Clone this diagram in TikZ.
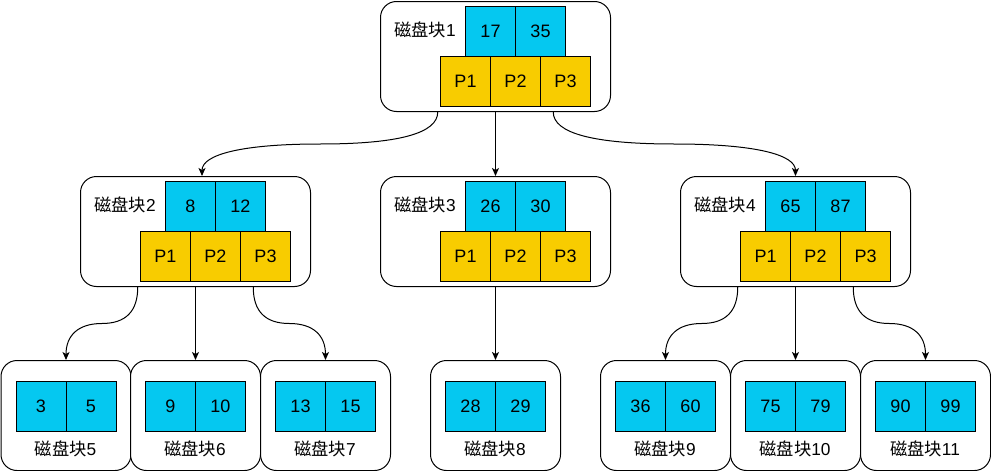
\documentclass[tikz,border=0pt]{standalone}
\usepackage{fontspec}
\setmainfont{Liberation Sans}
\newfontfamily\cjk{Noto Sans CJK SC}
\usetikzlibrary{calc,arrows.meta}
\definecolor{keyblue}{RGB}{5,200,240}
\definecolor{ptryellow}{RGB}{248,204,0}
\tikzset{
  outerbox/.style={draw=black, line width=1pt, rounded corners=16pt, minimum width=230pt, minimum height=110pt, inner sep=0pt, anchor=north west, fill=white},
  leafbox/.style={outerbox, minimum width=130pt},
  bcell/.style={draw=black, line width=1pt, fill=keyblue, minimum size=50pt, inner sep=0pt, anchor=north west, font=\fontsize{18}{20}\selectfont},
  ycell/.style={bcell, fill=ptryellow},
  lbl/.style={font=\fontsize{17.3}{20}\selectfont, inner sep=0pt},
  conn/.style={draw=black, line width=1pt, -{Stealth[length=8pt,width=7pt,inset=2pt]}}
}
\newcommand\midblock[6]{%
  \node[outerbox] (#1) at (#2,#3) {};
  \node[lbl] (#1l) at ($(#1.north west)+(45,29)$) {{\cjk 磁盘块}#4};
  \node[bcell] (#1k1) at ($(#1.north west)+(85,5)$) {#5};
  \node[bcell] (#1k2) at ($(#1.north west)+(135,5)$) {#6};
  \node[ycell] (#1p1) at ($(#1.north west)+(60,55)$) {P1};
  \node[ycell] (#1p2) at ($(#1.north west)+(110,55)$) {P2};
  \node[ycell] (#1p3) at ($(#1.north west)+(160,55)$) {P3};
}
\newcommand\leafblock[6]{%
  \node[leafbox] (#1) at (#2,#3) {};
  \node[bcell] (#1k1) at ($(#1.north west)+(15,21)$) {#5};
  \node[bcell] (#1k2) at ($(#1.north west)+(65,21)$) {#6};
  \node[lbl] (#1l) at ($(#1.north west)+(65,89)$) {{\cjk 磁盘块}#4};
}
% curved orthogonal connector (draw.io style)
\newcommand\bcurve[2]{%
  \coordinate (cs) at #1;
  \coordinate (ce) at #2;
  \coordinate (ch) at ($(cs)!0.5!(ce)$);
  \coordinate (cc1) at (cs |- ch);
  \coordinate (cc2) at (ce |- ch);
  \draw[conn] (cs) .. controls ($(cs)!2/3!(cc1)$) and ($(ch)!2/3!(cc1)$) .. (ch)
     .. controls ($(ch)!2/3!(cc2)$) and ($(ce)!2/3!(cc2)$) .. (ce);
}
\begin{document}
\begin{tikzpicture}[x=1pt,y=-1pt]
\useasboundingbox (0,0) rectangle (991,471);
\midblock{b1}{380}{1}{1}{17}{35}
\midblock{b2}{80}{176}{2}{8}{12}
\midblock{b3}{380}{176}{3}{26}{30}
\midblock{b4}{680}{176}{4}{65}{87}
\leafblock{b5}{0.5}{360}{5}{3}{5}
\leafblock{b6}{130}{360}{6}{9}{10}
\leafblock{b7}{260}{360}{7}{13}{15}
\leafblock{b8}{430}{360}{8}{28}{29}
\leafblock{b9}{600}{360}{9}{36}{60}
\leafblock{b10}{730}{360}{10}{75}{79}
\leafblock{b11}{860}{360}{11}{90}{99}
% level 1 -> 2
\bcurve{($(b1.south west)!0.25!(b1.south east)$)}{($(b2.north west)+(122,0)$)}
\draw[conn] (b1.south) -- (b3.north);
\bcurve{($(b1.south west)!0.75!(b1.south east)$)}{(b4.north)}
% level 2 -> 3
\bcurve{($(b2.south west)!0.25!(b2.south east)$)}{(b5.north)}
\draw[conn] (b2.south) -- (b6.north);
\bcurve{($(b2.south west)!0.75!(b2.south east)$)}{(b7.north)}
\draw[conn] (b3.south) -- (b8.north);
\bcurve{($(b4.south west)!0.25!(b4.south east)$)}{(b9.north)}
\draw[conn] (b4.south) -- (b10.north);
\bcurve{($(b4.south west)!0.75!(b4.south east)$)}{(b11.north)}
\end{tikzpicture}
\end{document}
